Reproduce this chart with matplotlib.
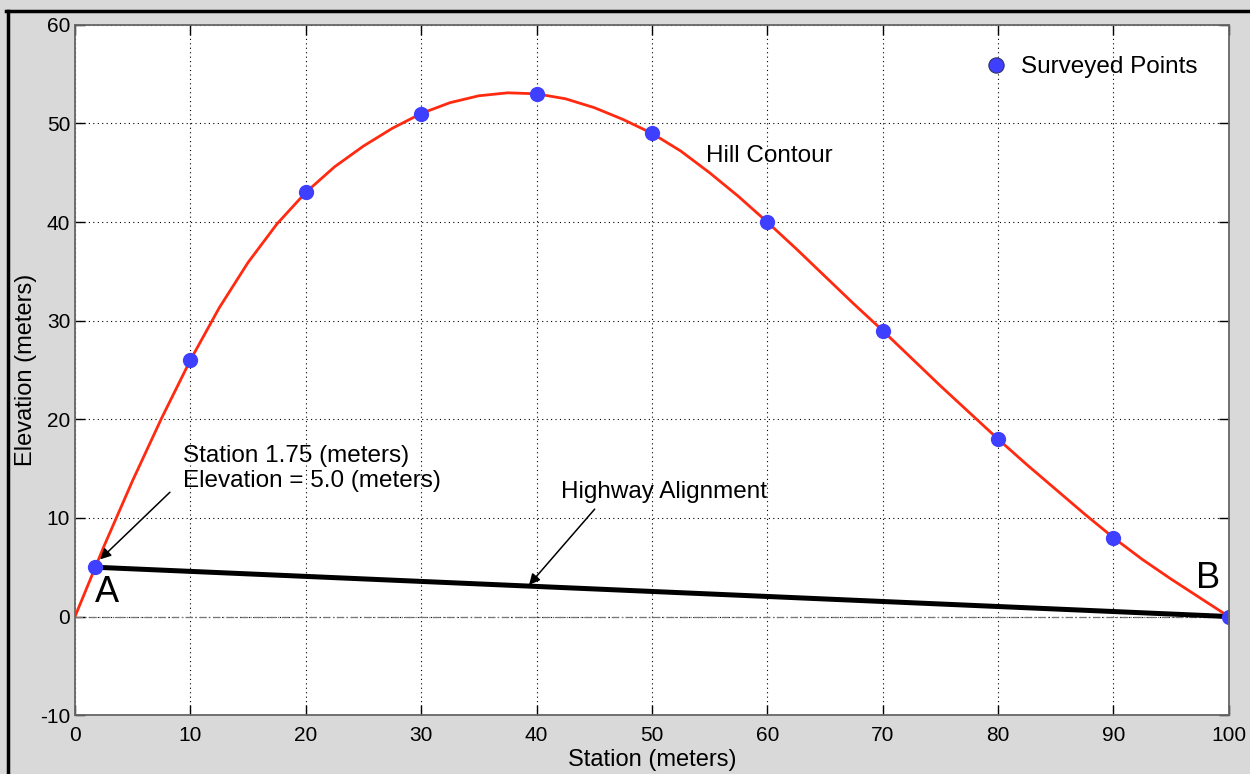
import numpy as np
import matplotlib
matplotlib.use("Agg")
from matplotlib import pyplot as plt
from matplotlib.lines import Line2D

plt.rcParams['font.family'] = ['Liberation Sans', 'DejaVu Sans']
plt.rcParams['axes.unicode_minus'] = False

# surveyed points
station = [1.75, 10, 20, 30, 40, 50, 60, 70, 80, 90, 100]
elevation = [5.0, 26, 43, 51, 53, 49, 40, 29, 18, 8, 0]

# hill contour
hill_x = [0, 2.5, 5, 7.5, 10, 12.5, 15, 17.5, 20, 22.5, 25, 27.5, 30, 32.5, 35,
          37.5, 40, 42.5, 45, 47.5, 50, 52.5, 55, 57.5, 60, 62.5, 65, 67.5, 70,
          72.5, 75, 77.5, 80, 82.5, 85, 87.5, 90, 92.5, 95, 97.5, 100]
hill_y = [0, 7.1, 13.8, 20.1, 26.0, 31.3, 35.9, 39.8, 43.0, 45.6, 47.7, 49.5,
          51.0, 52.1, 52.8, 53.1, 53.0, 52.5, 51.6, 50.4, 49.0, 47.2, 45.0, 42.6,
          40.0, 37.3, 34.5, 31.7, 29.0, 26.2, 23.4, 20.7, 18.0, 15.4, 12.9, 10.4,
          8.0, 5.8, 3.8, 1.9, 0]

# highway alignment A -> B
road_x = [1.75, 100]
road_y = [5.0, 0]

fig = plt.figure(figsize=(12.5, 7.74), dpi=100, facecolor="#d9d9d9")
ax = fig.add_axes([0.06, 0.076, 0.923, 0.892])

ax.plot([0, 100], [0, 0], color="#777777", linewidth=0.9, dashes=(6, 2, 1, 2))
ax.plot(road_x, road_y, color="black", linewidth=3.6, solid_capstyle="butt")
ax.plot(hill_x, hill_y, color="#ff2a10", linewidth=2.0, solid_joinstyle="round")
ax.plot(station, elevation, "o", color="#3f3fff", markersize=11,
        markeredgewidth=0, label="Surveyed Points")

ax.set_xlim(0, 100)
ax.set_ylim(-10, 60)
ax.set_xticks(np.arange(0, 101, 10))
ax.set_yticks(np.arange(-10, 61, 10))
ax.grid(True, linestyle=(0, (1, 3)), color="black", linewidth=0.8)
ax.tick_params(direction="in", top=True, right=True, length=7, labelsize=15, width=1)
ax.tick_params(axis="x", pad=8)
for s in ax.spines.values():
    s.set_color("#666666")
    s.set_linewidth(1.3)

ax.set_xlabel("Station (meters)", fontsize=17, labelpad=3)
ax.set_ylabel("Elevation (meters)", fontsize=17, labelpad=2)

ax.text(9.4, 15.0, "Station 1.75 (meters)\nElevation = 5.0 (meters)", fontsize=17.5,
        va="center", ha="left", linespacing=1.15)
ax.annotate("", xy=(2.0, 5.6), xytext=(8.4, 12.8),
            arrowprops=dict(arrowstyle="-|>", color="black", lw=1.1, mutation_scale=16))
ax.text(42.1, 12.6, "Highway Alignment", fontsize=17.5, va="center", ha="left")
ax.annotate("", xy=(39.2, 3.0), xytext=(45.2, 11.1),
            arrowprops=dict(arrowstyle="-|>", color="black", lw=1.1, mutation_scale=16))
ax.text(54.7, 46.7, "Hill Contour", fontsize=17.5, va="center", ha="left")
ax.text(1.7, 2.4, "A", fontsize=26, va="center", ha="left")
ax.text(97.2, 3.9, "B", fontsize=26, va="center", ha="left")

leg = ax.legend(loc="upper right", frameon=False, fontsize=17.5, handletextpad=0.25,
                handlelength=1.5, borderaxespad=0.9)
for h in leg.legend_handles:
    h.set_markeredgecolor("#333366")
    h.set_markeredgewidth(0.8)

# black frame lines of the screenshot
fig.add_artist(Line2D([0.005, 1.0], [0.986, 0.986], color="black", linewidth=2.5,
                      transform=fig.transFigure))
fig.add_artist(Line2D([0.006, 0.006], [0.0, 0.986], color="black", linewidth=2.5,
                      transform=fig.transFigure))

fig.savefig("out.png", dpi=100, facecolor=fig.get_facecolor())
